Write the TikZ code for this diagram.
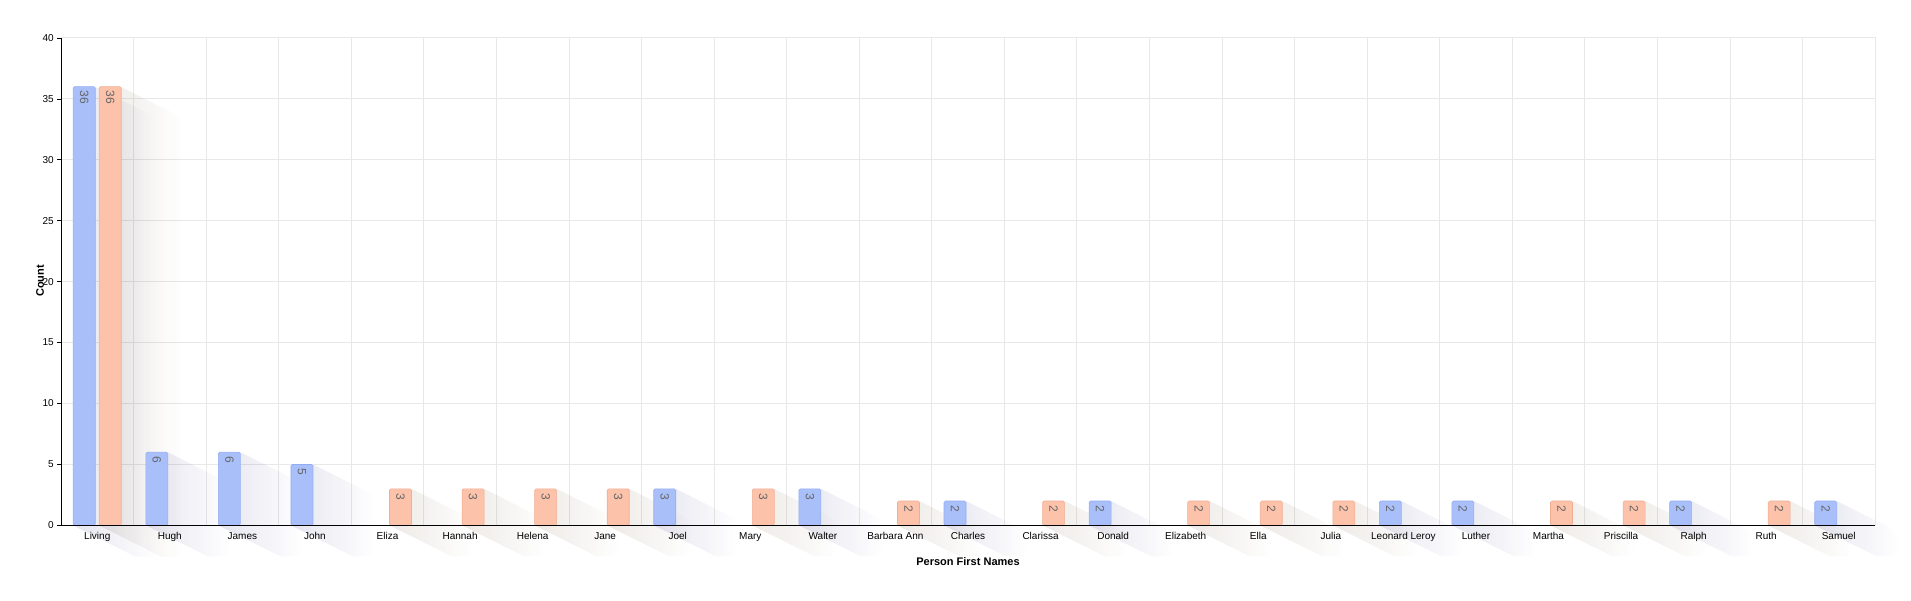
\documentclass[tikz,border=0pt]{standalone}
\usepackage{fontspec}
\setmainfont{Liberation Sans}
\usetikzlibrary{fadings}
\definecolor{barblue}{HTML}{A9BFFA}
\definecolor{edgeblue}{HTML}{94ADF2}
\definecolor{barorange}{HTML}{FCC2AA}
\definecolor{edgeorange}{HTML}{EFAE93}
\definecolor{gridgray}{HTML}{E8E8E8}
\tikzset{
  gridline/.style={draw=gridgray,line width=0.8pt},
  bluebar/.style={fill=barblue,draw=edgeblue,line width=0.6pt,rounded corners=1.5pt},
  orangebar/.style={fill=barorange,draw=edgeorange,line width=0.6pt,rounded corners=1.5pt},
  barshadow/.style={fill=black!60!blue,fill opacity=0.10,path fading=east},
  orangeshadow/.style={fill=black!70!orange,fill opacity=0.10,path fading=east},
  vallabel/.style={rotate=-90,text=black!60,font=\fontsize{12}{12}\selectfont,anchor=west,inner sep=0pt},
  catlabel/.style={font=\fontsize{10}{10}\selectfont,anchor=north,inner sep=0pt},
  ticklabel/.style={font=\fontsize{10}{10}\selectfont,anchor=east,inner sep=0pt},
  axistitle/.style={font=\bfseries\fontsize{11}{11}\selectfont,inner sep=0pt}
}
\newcommand{\ybase}{525.4}
\newcommand{\yunit}{12.19}
\begin{document}
\begin{tikzpicture}[x=1pt,y=-1pt]
\useasboundingbox (0,0) rectangle (1911,601);
% grid
\foreach \v in {5,10,...,40}
  \draw[gridline] (61,{\ybase-\yunit*\v}) -- (1875,{\ybase-\yunit*\v});
\foreach \i in {1,...,25}
  \draw[gridline] ({61+72.56*\i},37.8) -- ({61+72.56*\i},\ybase);
% tick labels
\foreach \v in {0,5,...,40}{
  \node[ticklabel] (tick\v) at (54,{\ybase-\yunit*\v}) {\v};
  \draw[black] (57,{\ybase-\yunit*\v}) -- (61,{\ybase-\yunit*\v});
}
% bars
\foreach \name/\b/\o [count=\i from 0] in {Living/36/36,Hugh/6/0,James/6/0,John/5/0,Eliza/0/3,
    Hannah/0/3,Helena/0/3,Jane/0/3,Joel/3/0,Mary/0/3,Walter/3/0,Barbara Ann/0/2,Charles/2/0,
    Clarissa/0/2,Donald/2/0,Elizabeth/0/2,Ella/0/2,Julia/0/2,Leonard Leroy/2/0,Luther/2/0,
    Martha/0/2,Priscilla/0/2,Ralph/2/0,Ruth/0/2,Samuel/2/0}{
  \pgfmathsetmacro{\c}{61+72.56*(\i+0.5)}
  \ifnum\b>0
    \pgfmathsetmacro{\bartop}{\ybase-\yunit*\b}
    \fill[barshadow] (\c-2,\bartop) -- (\c+60,\bartop+31) -- (\c+60,\ybase+31) -- (\c+38,\ybase+31)
      -- (\c-24,\ybase) -- (\c-2,\ybase) -- cycle;
    \draw[bluebar] (\c-24,\ybase) rectangle (\c-2,\bartop);
    \node[vallabel] (blue\i) at (\c-13,\bartop+4) {\b};
  \fi
  \ifnum\o>0
    \pgfmathsetmacro{\bartop}{\ybase-\yunit*\o}
    \fill[orangeshadow] (\c+24,\bartop) -- (\c+86,\bartop+31) -- (\c+86,\ybase+31) -- (\c+64,\ybase+31)
      -- (\c+2,\ybase) -- (\c+24,\ybase) -- cycle;
    \draw[orangebar] (\c+2,\ybase) rectangle (\c+24,\bartop);
    \node[vallabel] (orange\i) at (\c+13,\bartop+4) {\o};
  \fi
  \node[catlabel] (cat\i) at (\c,532) {\name};
}
% frame and axes
\draw[gridline] (61,37.8) -- (1875,37.8) -- (1875,\ybase);
\draw[black,line width=1pt] (61,37.8) -- (61,\ybase) -- (1875,\ybase);
\node[axistitle,rotate=90] (ytitle) at (40,281) {Count};
\node[axistitle] (xtitle) at (968,562) {Person First Names};
\end{tikzpicture}
\end{document}
